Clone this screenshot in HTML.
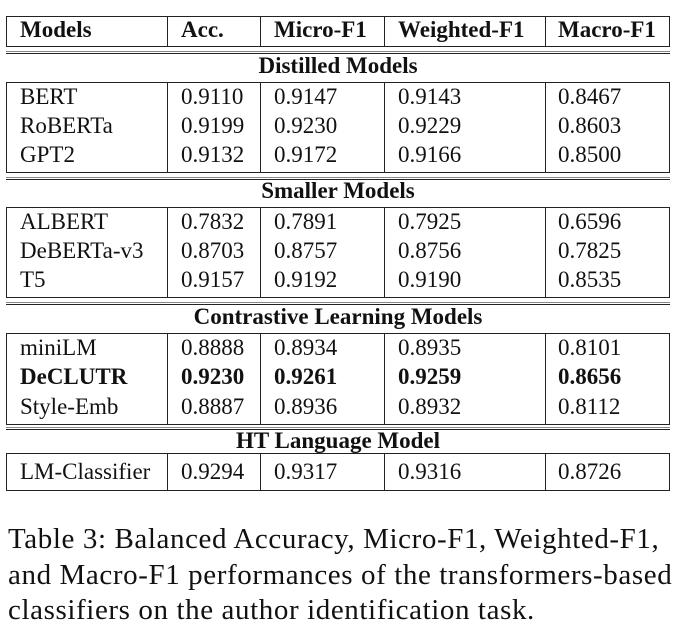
<!DOCTYPE html>
<html><head><meta charset="utf-8"><style>
body{margin:0;width:676px;height:639px;background:#fff;position:relative;overflow:hidden;font-family:"Liberation Serif",serif;color:#111}
.h{position:absolute;height:1px;background:#222;left:6px;width:664px}
.v{position:absolute;width:1px;background:#222}
.t{position:absolute;font-size:23px;line-height:24px;white-space:nowrap}
.b{font-weight:bold}
.c0{left:20px}.c1{left:181px}.c2{left:274px}.c3{left:398px}.c4{left:558px}
.sec{position:absolute;left:6px;width:664px;text-align:center;font-size:23px;font-weight:bold;line-height:24px}
.cap{position:absolute;left:8px;font-size:29px;line-height:35px;white-space:nowrap;letter-spacing:0.6px}
</style></head><body>
<div>
<div class="h" style="top:16px"></div><div class="h" style="top:46px"></div>
<div class="h" style="top:51px;background:#888"></div><div class="h" style="top:53px"></div>
<div class="h" style="top:82px"></div><div class="h" style="top:172px"></div>
<div class="h" style="top:177px;background:#888"></div><div class="h" style="top:179px"></div>
<div class="h" style="top:207px"></div><div class="h" style="top:297px"></div>
<div class="h" style="top:302px;background:#888"></div><div class="h" style="top:304px"></div>
<div class="h" style="top:333px"></div><div class="h" style="top:424px"></div>
<div class="h" style="top:427px;background:#888"></div><div class="h" style="top:429px"></div>
<div class="h" style="top:453px"></div><div class="h" style="top:490px"></div>
<div id="vl"></div>
<div class="t b c0" style="top:18px">Models</div>
<div class="t b c1" style="top:18px">Acc.</div>
<div class="t b c2" style="top:18px">Micro-F1</div>
<div class="t b c3" style="top:18px">Weighted-F1</div>
<div class="t b c4" style="top:18px">Macro-F1</div>
<div class="sec" style="top:54px">Distilled Models</div>
<div class="sec" style="top:179px">Smaller Models</div>
<div class="sec" style="top:305px">Contrastive Learning Models</div>
<div class="sec" style="top:429px">HT Language Model</div>
<div id="rows"></div>
</div>
<div>
<div class="cap" style="top:522px">Table 3: Balanced Accuracy, Micro-F1, Weighted-F1,</div>
<div class="cap" style="top:558px">and Macro-F1 performances of the transformers-based</div>
<div class="cap" style="top:593px">classifiers on the author identification task.</div>
</div>
<script>
const rows=[
["BERT","0.9110","0.9147","0.9143","0.8467",85,0],
["RoBERTa","0.9199","0.9230","0.9229","0.8603",114,0],
["GPT2","0.9132","0.9172","0.9166","0.8500",143,0],
["ALBERT","0.7832","0.7891","0.7925","0.6596",210,0],
["DeBERTa-v3","0.8703","0.8757","0.8756","0.7825",239,0],
["T5","0.9157","0.9192","0.9190","0.8535",268,0],
["miniLM","0.8888","0.8934","0.8935","0.8101",336,0],
["DeCLUTR","0.9230","0.9261","0.9259","0.8656",365,1],
["Style-Emb","0.8887","0.8936","0.8932","0.8112",395,0],
["LM-Classifier","0.9294","0.9317","0.9316","0.8726",460,0]];
const R=document.getElementById('rows');
rows.forEach(r=>{for(let i=0;i<5;i++){const d=document.createElement('div');
d.className='t c'+i+(r[6]?' b':'');d.style.top=r[5]+'px';d.textContent=r[i];


R.appendChild(d);}});
const boxes=[[16,46],[82,172],[207,297],[333,424],[453,490]];
const xs=[6,167,260,384,545,669];
const V=document.getElementById('vl');
boxes.forEach(b=>xs.forEach(x=>{const d=document.createElement('div');d.className='v';
d.style.left=x+'px';d.style.top=b[0]+'px';d.style.height=(b[1]-b[0]+1)+'px';


V.appendChild(d);}));
</script>
</body></html>
